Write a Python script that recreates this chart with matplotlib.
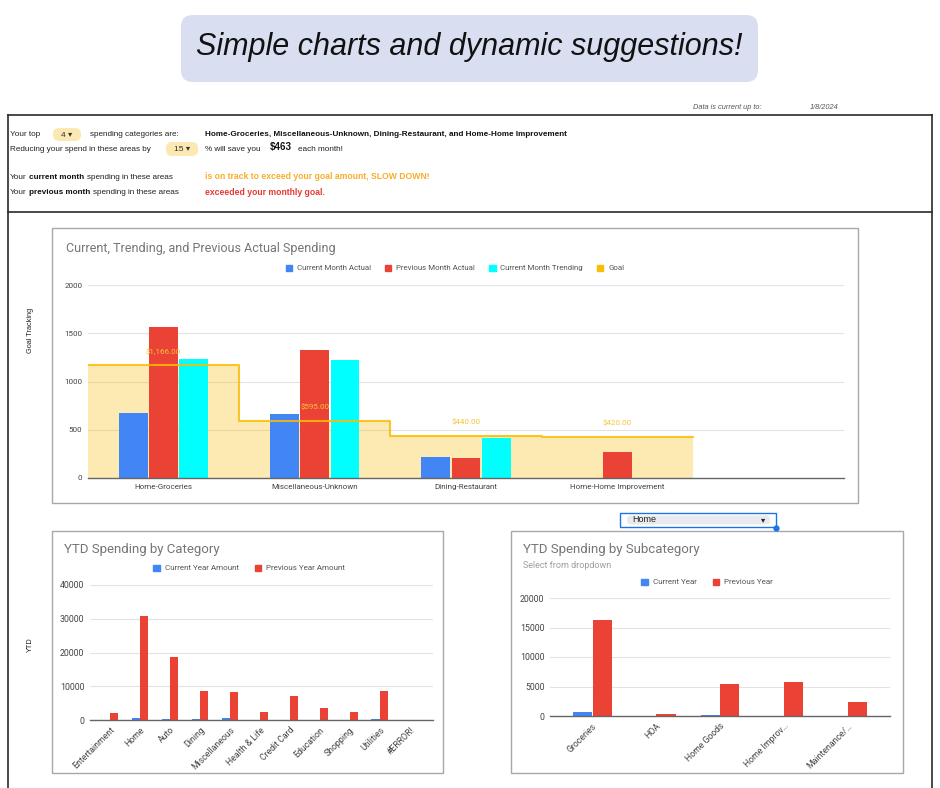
import numpy as np
import matplotlib.pyplot as plt
from matplotlib.patches import Rectangle, FancyBboxPatch, Patch

W, H = 940, 788

# goal tracking chart
goal_categories = ['Home-Groceries', 'Miscellaneous-Unknown', 'Dining-Restaurant', 'Home-Home Improvement']
current_actual = [675, 668, 221, 0]
previous_actual = [1561, 1325, 204, 273]
current_trending = [1235, 1221, 415, 0]
goal = [1166, 595, 440, 420]
goal_labels = ['$1,166.00', '$595.00', '$440.00', '$420.00']

# YTD by category
ytd_categories = ['Entertainment', 'Home', 'Auto', 'Dining', 'Miscellaneous', 'Health & Life',
                  'Credit Card', 'Education', 'Shopping', 'Utilities', '#ERROR!']
ytd_current = [0, 690, 200, 200, 700, 0, 0, 0, 0, 250, 0]
ytd_previous = [1980, 30900, 18800, 8700, 8400, 2500, 7200, 3450, 2500, 8700, 0]

# YTD by subcategory (Home)
sub_categories = ['Groceries', 'HOA', 'Home Goods', 'Home Improv\u2026', 'Maintenance/\u2026']
sub_current = [650, 0, 100, 0, 0]
sub_previous = [16300, 340, 5380, 5840, 2440]

BLUE = '#4285f4'
RED = '#ea4335'
CYAN = '#00ffff'
GOLD = '#fbbc04'
SHEET_FONT = ['Liberation Sans', 'DejaVu Sans']
CHART_FONT = ['Roboto', 'DejaVu Sans']

plt.rcParams['font.family'] = SHEET_FONT

fig = plt.figure(figsize=(9.4, 7.88), dpi=100)

# background layer in pixel coordinates
bg = fig.add_axes([0, 0, 1, 1], zorder=0)
bg.set_xlim(0, W)
bg.set_ylim(H, 0)
bg.axis('off')

# header banner
bg.add_patch(FancyBboxPatch((181, 15), 577, 67, boxstyle='round,pad=0,rounding_size=12',
                            fc='#d9dff1', ec='none'))
bg.text(469, 47, 'Simple charts and dynamic suggestions!', ha='center', va='center',
        fontsize=22, style='italic', color='#111')

# sheet borders
line_kw = dict(color='#2a2a2a', lw=1.2)
bg.plot([8, 932], [115, 115], **line_kw)
bg.plot([8, 932], [212, 212], **line_kw)
bg.plot([8, 8], [115, 788], **line_kw)
bg.plot([932, 932], [115, 788], **line_kw)

bg.text(693, 107, 'Data is current up to:', fontsize=5.3, style='italic', color='#555', va='center')
bg.text(810, 107, '1/8/2024', fontsize=5.3, style='italic', color='#555', va='center')

renderer = fig.canvas.get_renderer()


def runs(x, y, parts, gap=2.8):
    for s, kw in parts:
        t = bg.text(x, y, s, va='center', **kw)
        x += t.get_window_extent(renderer).width + gap


def chip(x0, x1, y0, y1, label):
    bg.add_patch(FancyBboxPatch((x0, y0), x1 - x0, y1 - y0, boxstyle='round,pad=0,rounding_size=6',
                                fc='#fce8b2', ec='none'))
    bg.text((x0 + x1) / 2, (y0 + y1) / 2 + 0.5, label, ha='center', va='center', fontsize=6,
            color='#333', family=SHEET_FONT)


txt = dict(fontsize=5.9, color='#222')
bold = dict(fontsize=5.9, color='#111', weight='bold')
bg.text(10, 134, 'Your top', va='center', **txt)
chip(53, 81, 128, 141, '4 \u25be')
bg.text(90, 134, 'spending categories are:', va='center', **txt)
bg.text(205, 134, ', '.join(goal_categories[:3]) + ', and ' + goal_categories[3], va='center', **bold)

bg.text(10, 149, 'Reducing your spend in these areas by', va='center', **txt)
chip(166, 198, 142, 156, '15 \u25be')
bg.text(205, 149, '% will save you', va='center', **txt)
bg.text(270, 147, '$463', va='center', fontsize=7, weight='bold', color='#111')
bg.text(298, 149, 'each month!', va='center', **txt)

runs(10, 177, [('Your', txt), ('current month', bold), ('spending in these areas', txt)])
runs(10, 192, [('Your', txt), ('previous month', bold), ('spending in these areas', txt)])
bg.text(205, 176, 'is on track to exceed your goal amount, SLOW DOWN!', va='center',
        fontsize=6.2, weight='bold', color='#f9ad2a')
bg.text(205, 192, 'exceeded your monthly goal.', va='center', fontsize=6.2, weight='bold', color='#e53935')

bg.text(30, 330, 'Goal Tracking', rotation=90, ha='center', va='center', fontsize=5.3, color='#222')
bg.text(30, 645, 'YTD', rotation=90, ha='center', va='center', fontsize=5.3, color='#222')

# chart frames
for x0, y0, x1, y1 in [(52, 228, 858, 503), (52, 531, 443, 773), (511, 531, 903, 773)]:
    bg.add_patch(Rectangle((x0, y0), x1 - x0, y1 - y0, fc='white', ec='#a8a8a8', lw=1))

# dropdown
bg.add_patch(Rectangle((620, 513), 156, 14, fc='white', ec='#1a73e8', lw=1))
bg.add_patch(FancyBboxPatch((627, 515.5), 143, 9, boxstyle='round,pad=0,rounding_size=4',
                            fc='#e8eaed', ec='none'))
bg.text(632, 520, 'Home', va='center', fontsize=6.5, color='#222')
bg.text(763, 520, '\u25be', va='center', ha='center', fontsize=6, color='#222', family=['DejaVu Sans'])
bg.plot([776], [528], 'o', color='#1a73e8', ms=3.5)

# chart titles
bg.text(66, 248, 'Current, Trending, and Previous Actual Spending', va='center', fontsize=9,
        color='#757575', family=CHART_FONT)
bg.text(64, 550, 'YTD Spending by Category', va='center', fontsize=9.5, color='#757575', family=CHART_FONT)
bg.text(523, 550, 'YTD Spending by Subcategory', va='center', fontsize=9.5, color='#757575', family=CHART_FONT)
bg.text(523, 566, 'Select from dropdown', va='center', fontsize=6.5, color='#9e9e9e', family=CHART_FONT)


def style(ax, ymax, step, size):
    ax.set_facecolor('none')
    ax.set_ylim(0, ymax)
    ax.set_yticks(np.arange(0, ymax + 1, step))
    ax.grid(axis='y', color='#e3e3e3', lw=0.8)
    ax.set_axisbelow(True)
    for s in ['top', 'right', 'left']:
        ax.spines[s].set_visible(False)
    ax.spines['bottom'].set_color('#666')
    ax.spines['bottom'].set_linewidth(1)
    ax.tick_params(length=0, labelsize=size, labelcolor='#444', pad=4)
    for lab in ax.get_xticklabels() + ax.get_yticklabels():
        lab.set_family(CHART_FONT)


def legend(items, x, y, size, spacing):
    handles = [Patch(color=c, label=l) for l, c in items]
    fig.legend(handles=handles, loc='center', bbox_to_anchor=(x / W, 1 - y / H), ncol=len(items),
               frameon=False, handlelength=0.8, handleheight=0.8, handletextpad=0.6,
               columnspacing=spacing, labelcolor='#555', prop={'family': CHART_FONT, 'size': size})


# main chart
ax1 = fig.add_axes([88 / W, 1 - 478 / H, (844 - 88) / W, (478 - 285) / H], zorder=1)
x = np.arange(len(goal_categories))
xs = np.arange(len(goal) + 1) - 0.5
ys = goal + [goal[-1]]
ax1.fill_between(xs, ys, step='post', color=GOLD, alpha=0.3, lw=0, zorder=1)
ax1.bar(x - 0.2, current_actual, 0.19, color=BLUE, zorder=2)
ax1.bar(x, previous_actual, 0.19, color=RED, zorder=2)
ax1.bar(x + 0.2, current_trending, 0.19, color=CYAN, zorder=2)
ax1.step(xs, ys, where='post', color=GOLD, lw=1.5, alpha=0.85, zorder=3)
for i, lab in enumerate(goal_labels):
    ax1.annotate(lab, (i, goal[i]), xytext=(0, 10), textcoords='offset points', ha='center',
                 va='center', fontsize=5.8, color='#f8c437', zorder=4, family=CHART_FONT)
ax1.set_xlim(-0.5, 4.5)
ax1.set_xticks(x)
ax1.set_xticklabels(goal_categories)
style(ax1, 2000, 500, 5.8)
legend([('Current Month Actual', BLUE), ('Previous Month Actual', RED),
        ('Current Month Trending', CYAN), ('Goal', GOLD)], 455, 268, 5.7, 1.8)

# YTD by category
ax2 = fig.add_axes([90 / W, 1 - 720 / H, (433 - 90) / W, (720 - 585) / H], zorder=1)
x2 = np.arange(len(ytd_categories))
ax2.bar(x2 - 0.14, ytd_current, 0.27, color=BLUE)
ax2.bar(x2 + 0.14, ytd_previous, 0.27, color=RED)
ax2.set_xlim(-0.67, 10.78)
ax2.set_xticks(x2)
ax2.set_xticklabels(ytd_categories, rotation=45, ha='right', rotation_mode='anchor')
style(ax2, 40000, 10000, 6.3)
legend([('Current Year Amount', BLUE), ('Previous Year Amount', RED)], 249, 568, 5.8, 2.0)

# YTD by subcategory
ax3 = fig.add_axes([550 / W, 1 - 716 / H, (890 - 550) / W, (716 - 598) / H], zorder=1)
x3 = np.arange(len(sub_categories))
ax3.bar(x3 - 0.155, sub_current, 0.3, color=BLUE)
ax3.bar(x3 + 0.155, sub_previous, 0.3, color=RED)
ax3.set_xlim(-0.66, 4.66)
ax3.set_xticks(x3)
ax3.set_xticklabels(sub_categories, rotation=45, ha='right', rotation_mode='anchor')
style(ax3, 20000, 5000, 6.3)
legend([('Current Year', BLUE), ('Previous Year', RED)], 707, 582, 5.8, 2.0)

fig.savefig('out.png', dpi=100)
